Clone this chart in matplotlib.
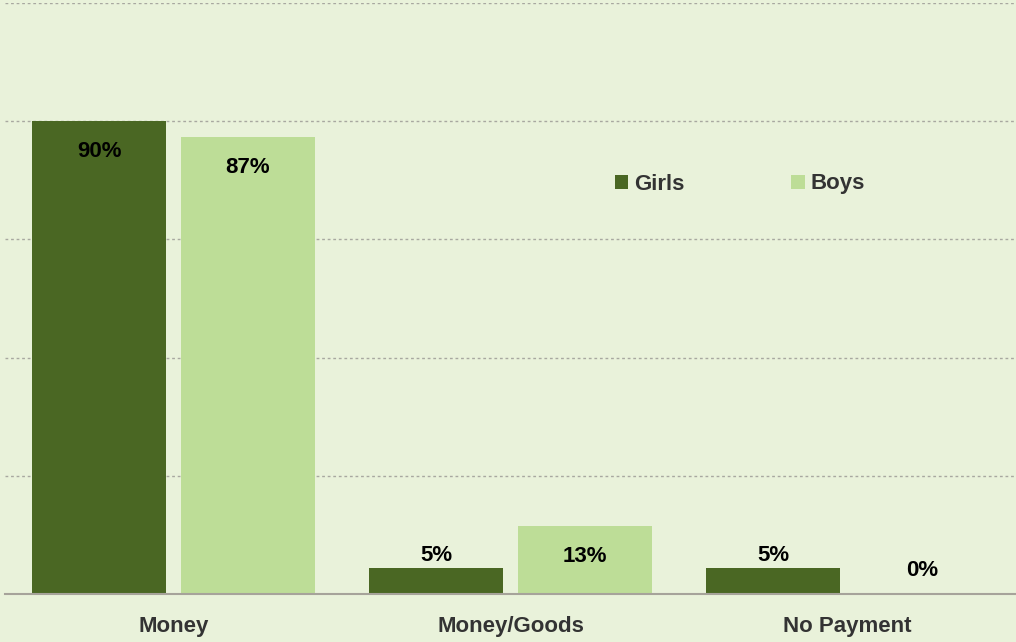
import matplotlib
matplotlib.use("Agg")
import matplotlib.pyplot as plt
import numpy as np

categories = ["Money", "Money/Goods", "No Payment"]
girls = [90, 5, 5]
boys = [87, 13, 0]
series_names = ["Girls", "Boys"]

fam = ["Liberation Sans Narrow", "Liberation Sans", "DejaVu Sans"]
plt.rcParams['font.family'] = fam

bg = "#E9F2DA"
c_girls = "#4A6723"
c_boys = "#BDDD97"

W, H = 1016, 642
fig = plt.figure(figsize=(W/100, H/100), dpi=100, facecolor=bg)
ax = fig.add_axes([5/W, (H-594)/H, (1016-5)/W, (594-3)/H], facecolor=bg)

x = np.arange(len(categories))
bw = 0.398
off = 0.2205
b1 = ax.bar(x - off, girls, bw, color=c_girls, label=series_names[0], zorder=3)
b2 = ax.bar(x + off, boys, bw, color=c_boys, label=series_names[1], zorder=3)

ax.set_xlim(-0.5, len(categories) - 0.5)
ax.set_ylim(0, 112.5)
ax.set_yticks(np.arange(0, 113, 22.5))
ax.yaxis.grid(True, linestyle=(0, (2, 2)), color="#A8A8A0", linewidth=1.0, zorder=0)
ax.tick_params(axis='y', length=0, labelleft=False)
ax.tick_params(axis='x', length=0, pad=16)
ax.set_xticks(x)
ax.set_xticklabels(categories, fontsize=16, fontweight='bold', color="#333333")
for s in ["top", "right", "left"]:
    ax.spines[s].set_visible(False)
ax.spines["bottom"].set_color("#A6A39A")
ax.spines["bottom"].set_linewidth(1.5)
ax.spines["bottom"].set_zorder(4)

def label(bars, vals):
    for r, v in zip(bars, vals):
        cx = r.get_x() + r.get_width() / 2
        if v > 10:
            dy = -22
        elif v > 0:
            dy = 9
        else:
            dy = 17
        ax.annotate(f"{v}%", (cx, v), xytext=(0, dy), textcoords="offset points",
                    ha="center", va="center", fontsize=16, fontweight="bold", color="black", zorder=5)

label(b1, girls)
label(b2, boys)

leg = ax.legend(loc="center", bbox_to_anchor=((740-5)/(1011), (594-184)/591), ncol=2,
                frameon=False, handlelength=0.6, handleheight=0.6,
                columnspacing=4.8, handletextpad=0.27, prop={'weight': 'bold', 'size': 16})
for t in leg.get_texts():
    t.set_color("#333333")

fig.savefig("out.png", dpi=100, facecolor=bg)
